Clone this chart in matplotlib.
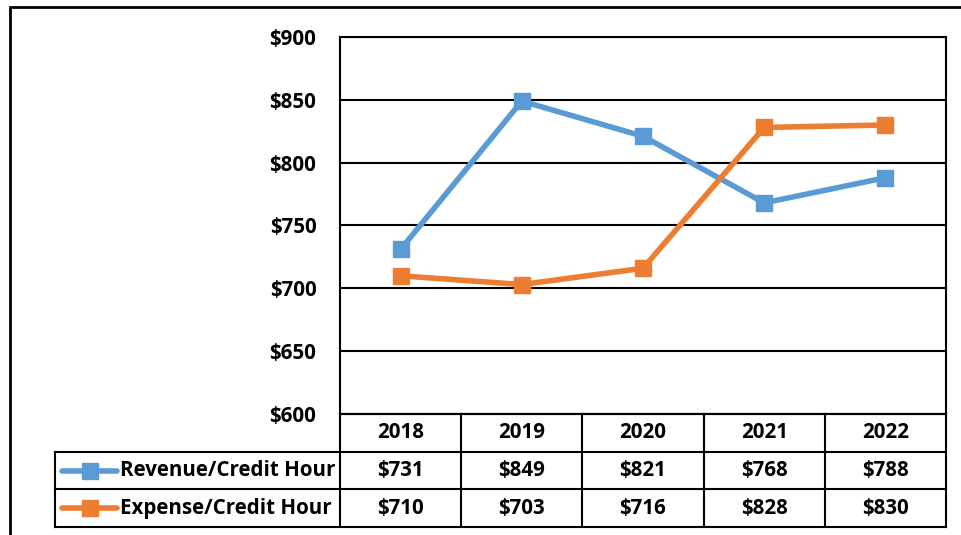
import matplotlib.pyplot as plt
from matplotlib.patches import Rectangle

years = ['2018', '2019', '2020', '2021', '2022']
revenue = [731, 849, 821, 768, 788]
expense = [710, 703, 716, 828, 830]
series_names = ['Revenue/Credit Hour', 'Expense/Credit Hour']
y_ticks = [600, 650, 700, 750, 800, 850, 900]

blue = '#5b9bd5'
orange = '#ed7d31'
plt.rcParams['font.family'] = ['Open Sans', 'DejaVu Sans']
FS = 14.8

W, H = 961, 535
fig = plt.figure(figsize=(W / 100, H / 100), dpi=100)


def box(x0, y0, x1, y1):
    # pixel box -> figure fraction
    return [x0 / W, 1 - y1 / H, (x1 - x0) / W, (y1 - y0) / H]


# outer chart border (runs off the right and bottom edge)
fig.patches.append(Rectangle((10 / W, -0.1), 2, 1 - 7 / H + 0.1, fill=False,
                             lw=2, ec='black', transform=fig.transFigure))

ax = fig.add_axes(box(340, 37, 946, 414))
xs = range(len(years))
ax.plot(xs, revenue, color=blue, lw=4, marker='s', ms=11, zorder=3)
ax.plot(xs, expense, color=orange, lw=4, marker='s', ms=11, zorder=3)
ax.set_xlim(-0.5, len(years) - 0.5)
ax.set_ylim(600, 900)
ax.set_yticks(y_ticks)
ax.set_yticklabels(['$%d' % v for v in y_ticks], fontsize=FS, fontweight='bold')
ax.tick_params(axis='y', length=0, pad=17)
ax.set_xticks([])
ax.grid(axis='y', color='black', lw=1.5)
for s in ax.spines.values():
    s.set_linewidth(1.5)

# data table under the plot
col_w = 606 / len(years)
left_ext = (340 - 55) / col_w
tb = fig.add_axes(box(55, 414, 946, 527))
tb.set_xlim(-0.5 - left_ext, len(years) - 0.5)
tb.set_ylim(3, 0)
tb.axis('off')
lk = dict(color='black', lw=1.5, clip_on=False)
tb.plot([-0.5, len(years) - 0.5], [0, 0], **lk)
for r in [1, 2, 3]:
    tb.plot([-0.5 - left_ext, len(years) - 0.5], [r, r], **lk)
for c in range(len(years) + 1):
    tb.plot([c - 0.5, c - 0.5], [0, 3], **lk)
tb.plot([-0.5 - left_ext, -0.5 - left_ext], [1, 3], **lk)

for i, yr in enumerate(years):
    tb.text(i, 0.5, yr, ha='center', va='center', fontsize=FS, fontweight='bold')
    tb.text(i, 1.5, '$%d' % revenue[i], ha='center', va='center', fontsize=FS, fontweight='bold')
    tb.text(i, 2.5, '$%d' % expense[i], ha='center', va='center', fontsize=FS, fontweight='bold')

key_x0 = -0.5 - (340 - 62) / col_w
key_x1 = -0.5 - (340 - 117) / col_w
txt_x = -0.5 - (340 - 120) / col_w
for r, (name, col) in enumerate(zip(series_names, [blue, orange])):
    yy = r + 1.5
    tb.plot([key_x0, key_x1], [yy, yy], color=col, lw=4, solid_capstyle='round', clip_on=False)
    tb.plot([(key_x0 + key_x1) / 2], [yy], color=col, marker='s', ms=11, clip_on=False)
    tb.text(txt_x, yy, name, ha='left', va='center', fontsize=FS, fontweight='bold')

fig.savefig('out.png', dpi=100)
